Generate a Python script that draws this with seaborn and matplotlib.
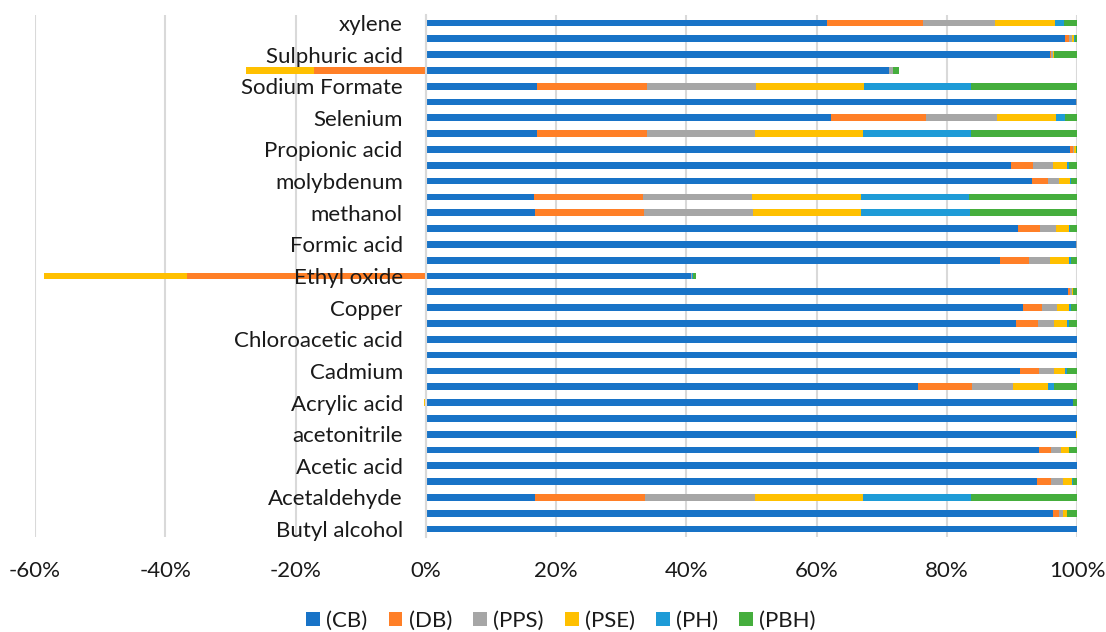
import numpy as np
import pandas as pd
import matplotlib
matplotlib.use("Agg")
import matplotlib.pyplot as plt
from matplotlib.patches import Patch
from matplotlib.ticker import FuncFormatter
import seaborn as sns

# Rows listed bottom to top; only every other row carries a visible name
row_labels = [
    "Butyl alcohol", "", "Acetaldehyde", "", "Acetic acid", "", "acetonitrile", "",
    "Acrylic acid", "", "Cadmium", "", "Chloroacetic acid", "", "Copper", "",
    "Ethyl oxide", "", "Formic acid", "", "methanol", "", "molybdenum", "",
    "Propionic acid", "", "Selenium", "", "Sodium Formate", "", "Sulphuric acid", "",
    "xylene",
]

series_names = ["(CB)", "(DB)", "(PPS)", "(PSE)", "(PH)", "(PBH)"]

# Shares in percent, one value per row (bottom to top)
cb = [100.0, 96.3, 16.8, 93.8, 100.0, 94.1, 99.8, 100.0,
      99.4, 75.6, 91.2, 100.0, 100.0, 90.6, 91.7, 98.6,
      40.7, 88.1, 99.8, 91.0, 16.7, 16.6, 93.1, 89.8,
      98.9, 17.1, 62.3, 99.8, 17.1, 71.1, 95.8, 98.1,
      61.6]
db = [0.0, 0.9, 16.9, 2.2, 0.0, 1.9, 0.0, 0.0,
      0.0, 8.3, 3.0, 0.0, 0.0, 3.4, 2.9, 0.4,
      -36.7, 4.5, 0.0, 3.3, 16.8, 16.8, 2.4, 3.5,
      0.5, 16.8, 14.5, 0.0, 16.8, -17.2, 0.2, 0.7,
      14.8]
pps = [0.0, 0.7, 16.9, 1.8, 0.0, 1.5, 0.1, 0.0,
       0.0, 6.3, 2.2, 0.0, 0.0, 2.5, 2.3, 0.2,
       0.2, 3.3, 0.2, 2.4, 16.7, 16.7, 1.8, 3.0,
       0.2, 16.7, 10.9, 0.2, 16.8, 0.7, 0.3, 0.4,
       11.0]
pse = [0.0, 0.5, 16.6, 1.4, 0.0, 1.2, 0.1, 0.0,
       -0.3, 5.3, 1.8, 0.0, 0.0, 2.0, 1.9, 0.2,
       -21.9, 2.8, 0.0, 2.1, 16.7, 16.7, 1.6, 2.1,
       0.2, 16.6, 9.0, 0.0, 16.6, -10.4, 0.2, 0.4,
       9.2]
ph = [0.0, 0.1, 16.5, 0.2, 0.0, 0.1, 0.0, 0.0,
      0.0, 0.9, 0.3, 0.0, 0.0, 0.3, 0.3, 0.05,
      0.1, 0.4, 0.0, 0.2, 16.7, 16.6, 0.2, 0.4,
      0.0, 16.5, 1.4, 0.0, 16.4, 0.0, 0.0, 0.1,
      1.4]
pbh = [0.0, 1.5, 16.3, 0.6, 0.0, 1.2, 0.0, 0.0,
       0.6, 3.6, 1.5, 0.0, 0.0, 1.2, 0.9, 0.55,
       0.5, 0.9, 0.0, 1.0, 16.4, 16.6, 0.9, 1.2,
       0.2, 16.3, 1.9, 0.0, 16.3, 0.8, 3.5, 0.3,
       2.0]

colors = ["#1873C7", "#FF7F27", "#A6A6A6", "#FFC000", "#1E9BD7", "#45AE3D"]

plt.rcParams["font.family"] = ["Lato", "DejaVu Sans"]

values = np.array([cb, db, pps, pse, ph, pbh])          # (series, rows)
positions = np.arange(len(row_labels))

# Positive and negative parts stack separately, each starting at zero
pos_cum = np.cumsum(np.clip(values, 0, None), axis=0)
neg_cum = np.cumsum(np.clip(values, None, 0), axis=0)

fig = plt.figure(figsize=(11.06, 6.32), dpi=100)
ax = fig.add_axes([35 / 1106, 1 - 537 / 632, (1077 - 35) / 1106, (537 - 15) / 632])

# Draw the cumulative totals from the outermost series inward so that
# each series covers the part belonging to the ones beyond it
for cum in (pos_cum, neg_cum):
    for i in range(len(series_names) - 1, -1, -1):
        df = pd.DataFrame({"value": cum[i], "row": positions})
        sns.barplot(data=df, x="value", y="row", orient="h", native_scale=True,
                    width=0.42, color=colors[i], saturation=1, errorbar=None,
                    linewidth=0, ax=ax)

ax.set_xlim(-60, 100)
ax.set_ylim(-0.5, len(row_labels) - 0.5)
ax.set_xlabel("")
ax.set_ylabel("")

xticks = np.arange(-60, 101, 20)
ax.set_xticks(xticks)
ax.xaxis.set_major_formatter(FuncFormatter(lambda v, _: f"{v:.0f}%"))
ax.tick_params(axis="x", length=0, pad=17, labelsize=16, labelcolor="#1a1a1a")

shown = [p for p, lab in zip(positions, row_labels) if lab]
ax.set_yticks(shown)
ax.set_yticklabels([lab for lab in row_labels if lab])
ax.tick_params(axis="y", length=0, pad=16.5, labelsize=16, labelcolor="#1a1a1a")

ax.grid(axis="x", color="#D9D9D9", linewidth=1.5)
ax.grid(axis="y", visible=False)
ax.set_axisbelow(True)
ax.yaxis.set_zorder(3)

for side in ("top", "right", "bottom"):
    ax.spines[side].set_visible(False)
ax.spines["left"].set_position(("data", 0))
ax.spines["left"].set_color("#D9D9D9")
ax.spines["left"].set_linewidth(1.5)

handles = [Patch(facecolor=c, edgecolor="none") for c in colors]
fig.legend(handles, series_names, loc="center", bbox_to_anchor=(561 / 1106, 1 - 621 / 632),
           ncol=6, frameon=False, prop={"size": 16},
           handlelength=0.62, handleheight=0.62, handletextpad=0.28,
           columnspacing=0.95, labelcolor="#1a1a1a")

fig.savefig("out.png", dpi=100)
